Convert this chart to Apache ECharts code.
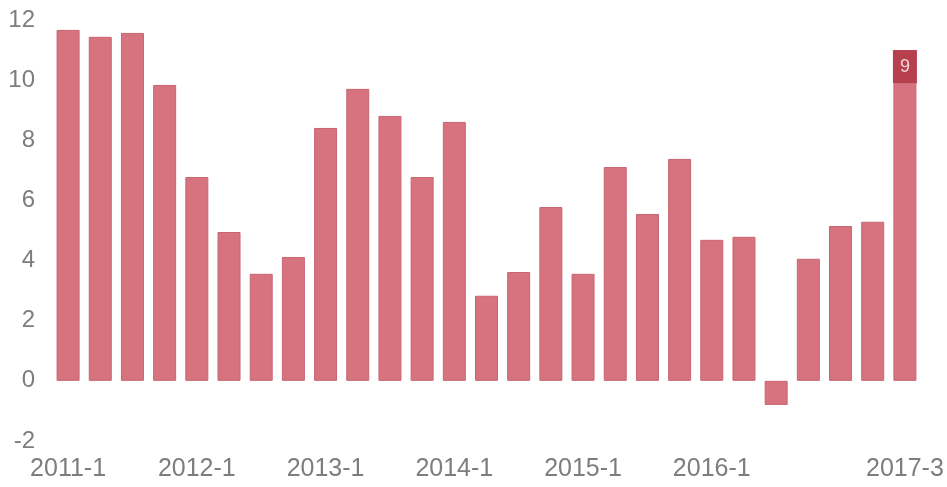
<!DOCTYPE html>
<html>
<head>
<meta charset="utf-8">
<style>html,body{margin:0;padding:0;background:#fff}#c{width:947px;height:487px}</style>
<script src="https://cdn.jsdelivr.net/npm/echarts@6/dist/echarts.min.js"></script>
</head>
<body>
<div id="c"></div>
<script>
const categories = ['2011-1','2011-2','2011-3','2011-4','2012-1','2012-2','2012-3','2012-4','2013-1','2013-2','2013-3','2013-4','2014-1','2014-2','2014-3','2014-4','2015-1','2015-2','2015-3','2015-4','2016-1','2016-2','2016-3','2016-4','2017-1','2017-2','2017-3'];
const values = [11.67,11.44,11.57,9.84,6.78,4.95,3.56,4.12,8.41,9.71,8.81,6.78,8.61,2.83,3.62,5.78,3.56,7.11,5.55,7.38,4.69,4.79,-0.8,4.06,5.15,5.29,11.0];
const shownLabels = ['2011-1','2012-1','2013-1','2014-1','2015-1','2016-1','2017-3'];
const yTicks = {min:-2, max:12, interval:2};

const chart = echarts.init(document.getElementById('c'), null, {renderer:'canvas'});
const data = values.map((v,i) => {
  if (i === values.length - 1) {
    return {value:v, label:{show:true, position:'insideTop', distance:0, formatter:'9',
      backgroundColor:'#b6404e', color:'#f4d6da', width:24, height:33, lineHeight:33, padding:0,
      align:'center', fontSize:18, fontFamily:'Liberation Sans'}};
  }
  return v;
});
chart.setOption({
  animation:false,
  grid:{left:52, right:26, top:20, bottom:46},
  xAxis:{type:'category', data:categories,
    axisLine:{show:false}, axisTick:{show:false},
    axisLabel:{interval:0, margin:16, color:'#7d7d7d', fontSize:25, fontFamily:'Liberation Sans',
      formatter:(v)=> shownLabels.indexOf(v) >= 0 ? v : ''}},
  yAxis:{type:'value', min:yTicks.min, max:yTicks.max, interval:yTicks.interval,
    splitLine:{show:false}, axisLine:{show:false}, axisTick:{show:false},
    axisLabel:{margin:17, color:'#7d7d7d', fontSize:24, fontFamily:'Liberation Sans'}},
  series:[{type:'bar', data:data, barWidth:23,
    itemStyle:{color:'#d6737f', borderColor:'#c66672', borderWidth:1}}]
});
</script>
</body>
</html>
